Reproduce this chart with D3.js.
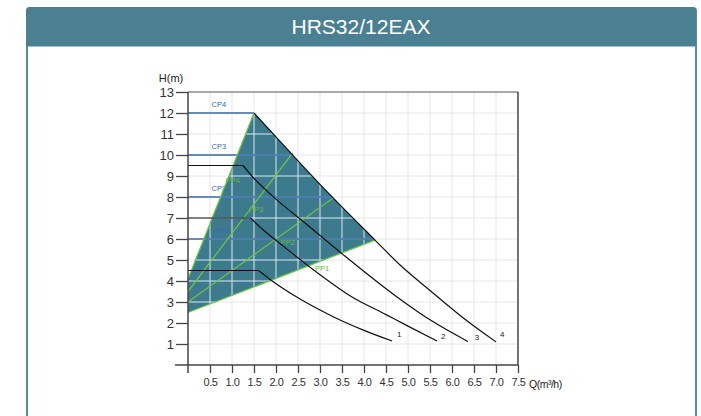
<!DOCTYPE html>
<html><head><meta charset="utf-8">
<script src="https://cdn.jsdelivr.net/npm/d3@7"></script>
<style>
html,body{margin:0;padding:0;background:#fff;}
svg{display:block;font-family:"Liberation Sans",Arial,sans-serif;}
</style></head>
<body>
<svg id="c" width="701" height="416"></svg>
<script>
// ---- data ----
const title = "HRS32/12EAX";
const yTicks = [1,2,3,4,5,6,7,8,9,10,11,12,13];
const xTicks = [0.5,1.0,1.5,2.0,2.5,3.0,3.5,4.0,4.5,5.0,5.5,6.0,6.5,7.0,7.5];
const xTickLabels = ["0.5","1.0","1.5","2.0","2.5","3.0","3.5","4.0","4.5","5.0","5.5","6.0","6.5","7.0","7.5"];
const curveNames = ["1","2","3","4"];
const curve1 = [[0,4.5],[1.6,4.5],[1.85,4.1],[2.5,3.2],[3.3,2.3],[4.0,1.65],[4.64,1.14]];
const curve2 = [[0,7],[1.42,7],[1.7,6.45],[2.2,5.6],[3.0,4.3],[3.68,3.3],[4.5,2.4],[5.0,1.85],[5.66,1.14]];
const curve3 = [[0,9.5],[1.25,9.5],[1.45,9.0],[2.0,7.9],[2.66,6.76],[3.5,5.3],[4.75,3.24],[5.5,2.15],[6.36,1.12]];
const curve4 = [[1.5,12],[2.27,10.24],[3.0,8.6],[4.25,5.95],[4.82,4.76],[5.5,3.55],[6.25,2.25],[7.0,1.1]];
const curveLabelPos = [[4.8,1.33],[5.8,1.24],[6.57,1.2],[7.14,1.33]];
const cpNames = ["CP1","CP2","CP3","CP4"];
const cpLevels = [6,8,10,12];
const cpLabelPos = [[0.78,6.3],[0.7,8.3],[0.7,10.3],[0.7,12.3]];
const ppNames = ["PP1","PP2","PP3","PP4"];
const ppStart = [2.5,3.0,3.5,4.1];
const ppEnd = [[4.25,5.95],[3.3,7.95],[2.38,10.1],[1.5,12]];
const ppLabelPos = [[3.05,4.5],[2.27,5.7],[1.55,7.3],[1.02,8.65]];

// ---- layout ----
const svg = d3.select("#c");
const x = d3.scaleLinear().domain([0,7.5]).range([188,518]);
const y = d3.scaleLinear().domain([0,13]).range([365,92]);

// panel
svg.append("rect").attr("x",27).attr("y",8).attr("width",669).attr("height",420)
  .attr("rx",3).attr("fill","#fff").attr("stroke","#5b8a99").attr("stroke-width",2);
svg.append("path").attr("d","M26,46 V11 Q26,7 30,7 H692 Q696,7 696,11 V46 Z").attr("fill","#4b8093");
svg.append("line").attr("x1",28).attr("x2",695).attr("y1",46.5).attr("y2",46.5).attr("stroke","#9fc3cf").attr("stroke-width",1);
svg.append("text").attr("x",361).attr("y",34).attr("text-anchor","middle")
  .attr("fill","#fff").attr("font-size",21).text(title);

// grid
const gxVals = d3.range(1,15).map(i=>i*0.5);
const gyVals = d3.range(1,13);
function drawGrid(g, color){
  g.selectAll(".gv").data(gxVals).join("line")
    .attr("x1",d=>x(d)).attr("x2",d=>x(d)).attr("y1",y(0)).attr("y2",y(13))
    .attr("stroke",color).attr("stroke-width",1);
  g.selectAll(".gh").data(gyVals).join("line")
    .attr("x1",x(0)).attr("x2",x(7.5)).attr("y1",d=>y(d)).attr("y2",d=>y(d))
    .attr("stroke",color).attr("stroke-width",1);
}
drawGrid(svg.append("g"), "#e6e6e6");

// working field polygon
const fieldPts = [[0,ppStart[0]],[0,ppStart[3]]].concat(curve4.slice(0,4));
const lineGen = d3.line().x(d=>x(d[0])).y(d=>y(d[1]));
const fieldPath = lineGen(fieldPts) + "Z";
svg.append("defs").append("clipPath").attr("id","fc").append("path").attr("d",fieldPath);
svg.append("path").attr("d",fieldPath).attr("fill","#3e7a8d");
const gIn = svg.append("g").attr("clip-path","url(#fc)");
drawGrid(gIn, "#d7ebf1");

// frame
svg.append("line").attr("x1",x(0)).attr("x2",x(7.5)).attr("y1",y(13)).attr("y2",y(13)).attr("stroke","#555").attr("stroke-width",1);
svg.append("line").attr("x1",x(7.5)).attr("x2",x(7.5)).attr("y1",y(13)).attr("y2",y(0)).attr("stroke","#444").attr("stroke-width",1.5);

// CP lines
function curve4At(h){
  for(let i=0;i<curve4.length-1;i++){
    const a=curve4[i], b=curve4[i+1];
    if((h<=a[1]&&h>=b[1])) return a[0]+(a[1]-h)/(a[1]-b[1])*(b[0]-a[0]);
  }
  return curve4[0][0];
}
cpLevels.forEach((lv,i)=>{
  svg.append("line").attr("x1",x(0)).attr("x2",x(curve4At(lv))).attr("y1",y(lv)).attr("y2",y(lv))
    .attr("stroke","#3a69ad").attr("stroke-width",1.3);
  svg.append("text").attr("x",x(cpLabelPos[i][0])).attr("y",y(cpLabelPos[i][1]))
    .attr("text-anchor","middle").attr("font-size",7.5).attr("fill","#3a69ad").text(cpNames[i]);
});

// PP lines
ppNames.forEach((n,i)=>{
  svg.append("line").attr("x1",x(0)).attr("y1",y(ppStart[i])).attr("x2",x(ppEnd[i][0])).attr("y2",y(ppEnd[i][1]))
    .attr("stroke","#6cc24a").attr("stroke-width",1.3);
  svg.append("text").attr("x",x(ppLabelPos[i][0])).attr("y",y(ppLabelPos[i][1]))
    .attr("text-anchor","middle").attr("font-size",7.5).attr("fill","#62bb40").text(n);
});

// curves: flat part then smooth descent from the knee
const smooth = d3.line().x(d=>x(d[0])).y(d=>y(d[1])).curve(d3.curveMonotoneX);
[curve1,curve2,curve3].forEach(c=>{
  svg.append("path").attr("d",lineGen(c.slice(0,2))).attr("fill","none").attr("stroke","#111").attr("stroke-width",1.2);
  svg.append("path").attr("d",smooth(c.slice(1))).attr("fill","none").attr("stroke","#111").attr("stroke-width",1.2);
});
svg.append("path").attr("d",smooth(curve4)).attr("fill","none").attr("stroke","#111").attr("stroke-width",1.2);
curveNames.forEach((n,i)=>{
  svg.append("text").attr("x",x(curveLabelPos[i][0])).attr("y",y(curveLabelPos[i][1]))
    .attr("text-anchor","middle").attr("font-size",8).attr("fill","#222").text(n);
});

// axes
const yAxis = d3.axisLeft(y).tickValues(yTicks).tickSize(12).tickPadding(2).tickFormat(d3.format("d"));
const gy = svg.append("g").attr("transform",`translate(${x(0)},0)`).call(yAxis);
gy.select(".domain").attr("d",`M0,${y(13)}V${y(0)+8}`).attr("stroke","#444").attr("stroke-width",1.5);
gy.selectAll(".tick line").attr("stroke","#444").attr("stroke-width",1.3);
gy.selectAll(".tick text").attr("font-size",13).attr("fill","#333").attr("font-family","Liberation Sans, Arial");

const xAxis = d3.axisBottom(x).tickValues(xTicks).tickSize(8).tickPadding(5).tickFormat((d,i)=>xTickLabels[i]);
const gx = svg.append("g").attr("transform",`translate(0,${y(0)})`).call(xAxis);
gx.select(".domain").attr("d",`M${x(0)-13},0H${x(7.5)}`).attr("stroke","#444").attr("stroke-width",1.5);
gx.selectAll(".tick line").attr("stroke","#444").attr("stroke-width",1.3);
gx.selectAll(".tick text").attr("font-size",11).attr("fill","#333").attr("letter-spacing","-0.5").attr("font-family","Liberation Sans, Arial");

svg.append("text").attr("x",171).attr("y",82).attr("text-anchor","middle").attr("font-size",11).attr("fill","#222").text("H(m)");
svg.append("text").attr("x",529).attr("y",388).attr("font-size",10.5).attr("fill","#222").attr("letter-spacing","-0.5").text("Q(m³/h)");
</script>
</body></html>
